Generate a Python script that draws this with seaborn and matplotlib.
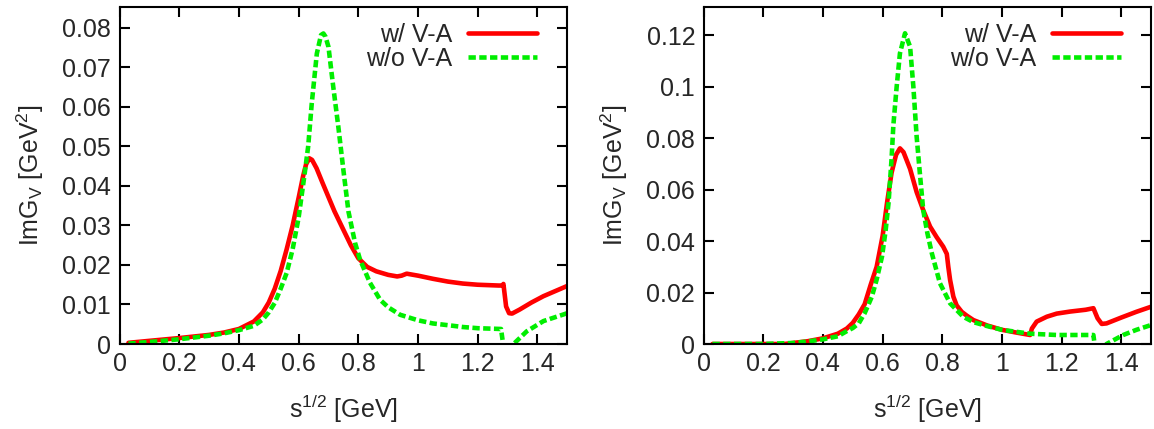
import numpy as np
import pandas as pd
import matplotlib
matplotlib.use("Agg")
import matplotlib.pyplot as plt
from matplotlib.ticker import FuncFormatter
import seaborn as sns

# ---------------- data ----------------
left_red_x = [0.03, 0.1, 0.2, 0.3, 0.35, 0.4, 0.45, 0.48, 0.50, 0.52, 0.54, 0.56, 0.58, 0.60,
              0.615, 0.625, 0.636, 0.645, 0.66, 0.68, 0.70, 0.72, 0.75, 0.775, 0.80, 0.83,
              0.86, 0.90, 0.93, 0.945, 0.962, 1.0, 1.05, 1.10, 1.15, 1.20, 1.27, 1.283,
              1.286, 1.295, 1.305, 1.315, 1.34, 1.38, 1.42, 1.46, 1.50]
left_red_y = [0.0003, 0.0008, 0.0015, 0.0023, 0.0029, 0.0038, 0.0057, 0.0080, 0.0105, 0.0140,
              0.0185, 0.0240, 0.0300, 0.0370, 0.0425, 0.0455, 0.0470, 0.0466, 0.0445, 0.0408,
              0.0372, 0.0336, 0.0289, 0.0250, 0.0217, 0.0195, 0.0184, 0.0175, 0.0171, 0.0173,
              0.0178, 0.0173, 0.0165, 0.0158, 0.0153, 0.0150, 0.0148, 0.0148, 0.0152, 0.0095,
              0.0078, 0.0077, 0.0087, 0.0105, 0.0121, 0.0134, 0.0147]

left_green_x = [0.03, 0.1, 0.2, 0.3, 0.35, 0.4, 0.45, 0.48, 0.50, 0.52, 0.54, 0.56, 0.58, 0.60,
                0.62, 0.632, 0.644, 0.661, 0.675, 0.683, 0.69, 0.70, 0.716, 0.733, 0.75, 0.767,
                0.789, 0.806, 0.839, 0.873, 0.90, 0.94, 1.0, 1.05, 1.107, 1.15, 1.2, 1.278,
                1.285, 1.29, 1.31, 1.32, 1.364, 1.42, 1.46, 1.50]
left_green_y = [0.0001, 0.0005, 0.0012, 0.0021, 0.0027, 0.0035, 0.0046, 0.0062, 0.0080, 0.0104,
                0.0140, 0.0180, 0.0240, 0.0320, 0.0430, 0.0500, 0.0609, 0.0735, 0.0782, 0.0786,
                0.0778, 0.0752, 0.0651, 0.0550, 0.0440, 0.0335, 0.0256, 0.0213, 0.0155, 0.0112,
                0.0093, 0.0074, 0.0060, 0.0052, 0.0047, 0.0043, 0.0040, 0.0038, 0.0000, -0.003,
                -0.003, 0.0000, 0.0032, 0.0058, 0.0068, 0.0078]

right_red_x = [0.03, 0.27, 0.30, 0.35, 0.40, 0.45, 0.48, 0.50, 0.52, 0.54, 0.56, 0.58, 0.60,
               0.615, 0.63, 0.645, 0.658, 0.67, 0.692, 0.714, 0.736, 0.759, 0.781, 0.803, 0.815,
               0.820, 0.826, 0.837, 0.848, 0.865, 0.882, 0.904, 0.95, 1.0, 1.05, 1.094, 1.10,
               1.116, 1.15, 1.183, 1.228, 1.28, 1.306, 1.32, 1.334, 1.35, 1.40, 1.45, 1.50]
right_red_y = [0.0, 0.0, 0.0004, 0.0011, 0.0022, 0.0040, 0.0060, 0.0082, 0.0115, 0.0155, 0.0230,
               0.0300, 0.0420, 0.0550, 0.0665, 0.0735, 0.0760, 0.0745, 0.0680, 0.0590, 0.0520,
               0.0456, 0.0415, 0.0378, 0.0350, 0.0300, 0.0249, 0.0184, 0.0150, 0.0125, 0.0110,
               0.0093, 0.0072, 0.0055, 0.0044, 0.0035, 0.0060, 0.0087, 0.0106, 0.0118, 0.0126,
               0.0133, 0.0139, 0.0100, 0.0078, 0.0080, 0.0103, 0.0125, 0.0145]

right_green_x = [0.03, 0.2, 0.3, 0.35, 0.40, 0.45, 0.48, 0.50, 0.52, 0.54, 0.564, 0.58, 0.598,
                 0.61, 0.62, 0.63, 0.636, 0.647, 0.658, 0.675, 0.692, 0.703, 0.714, 0.725,
                 0.736, 0.750, 0.765, 0.792, 0.826, 0.87, 0.904, 0.949, 1.0, 1.05, 1.094,
                 1.183, 1.306, 1.31, 1.315, 1.345, 1.35, 1.406, 1.45, 1.50]
right_green_y = [0.0, 0.0, 0.0004, 0.0010, 0.0018, 0.0030, 0.0050, 0.0062, 0.0080, 0.0120,
                 0.0184, 0.0250, 0.0340, 0.0440, 0.0550, 0.0720, 0.0850, 0.0999, 0.1129, 0.1207,
                 0.1155, 0.0999, 0.0805, 0.0660, 0.0520, 0.0430, 0.0352, 0.0236, 0.0158, 0.0106,
                 0.0085, 0.0070, 0.0055, 0.0047, 0.0040, 0.0035, 0.0035, 0.0, -0.003, -0.003,
                 0.0, 0.0035, 0.0055, 0.0074]

labels = ["w/ V-A", "w/o V-A"]
xticks = [0, 0.2, 0.4, 0.6, 0.8, 1.0, 1.2, 1.4]
left_yticks = [0, 0.01, 0.02, 0.03, 0.04, 0.05, 0.06, 0.07, 0.08]
right_yticks = [0, 0.02, 0.04, 0.06, 0.08, 0.10, 0.12]

# ---------------- style ----------------
sns.set_style("ticks")
plt.rcParams["font.family"] = ["Liberation Sans", "DejaVu Sans"]
plt.rcParams["mathtext.fontset"] = "custom"
plt.rcParams["mathtext.rm"] = "Liberation Sans"
plt.rcParams["mathtext.it"] = "Liberation Sans"
plt.rcParams["xtick.direction"] = "in"
plt.rcParams["ytick.direction"] = "in"

FS = 18
LW = 3.3
fig = plt.figure(figsize=(11.54, 4.29), dpi=100)
W, H = 1154, 429
ax_l = fig.add_axes([119.5 / W, (H - 344) / H, 447.8 / W, 337 / H])
ax_r = fig.add_axes([703.5 / W, (H - 344) / H, 447.8 / W, 337 / H])

fmt = FuncFormatter(lambda v, p: ("%g" % round(v, 6)))

panels = [
    (ax_l, left_red_x, left_red_y, left_green_x, left_green_y, left_yticks, 0.0853),
    (ax_r, right_red_x, right_red_y, right_green_x, right_green_y, right_yticks, 0.1309),
]

for ax, rx, ry, gx, gy, yt, ytop in panels:
    red = pd.DataFrame({"x": rx, "y": ry})
    green = pd.DataFrame({"x": gx, "y": gy})
    sns.lineplot(data=red, x="x", y="y", ax=ax, color="#ff0000", lw=LW,
                 label=labels[0], sort=False, estimator=None)
    sns.lineplot(data=green, x="x", y="y", ax=ax, color="#00ee00", lw=LW,
                 label=labels[1], sort=False, estimator=None)
    ax.lines[1].set_dashes([1.6, 0.75])
    ax.lines[1].set_dash_capstyle("butt")
    ax.set_xlim(0, 1.5)
    ax.set_ylim(0, ytop)
    ax.set_xticks(xticks)
    ax.set_yticks(yt)
    ax.xaxis.set_major_formatter(fmt)
    ax.yaxis.set_major_formatter(fmt)
    ax.tick_params(axis="both", which="major", direction="in", length=7, width=1.5,
                   labelsize=FS, top=True, right=True, pad=6, color="black")
    for s in ax.spines.values():
        s.set_visible(True)
        s.set_linewidth(1.5)
        s.set_color("black")
    ax.set_xlabel(r"s$^{1/2}$ [GeV]", fontsize=FS, labelpad=12)
    ax.set_ylabel(r"ImG$_{\mathrm{V}}$ [GeV$^{2}$]", fontsize=FS, labelpad=12)
    leg = ax.legend(loc="upper right", bbox_to_anchor=(0.955, 0.982), frameon=False,
                    markerfirst=False, fontsize=FS, handlelength=2.75, handletextpad=0.65,
                    labelspacing=0.0, borderaxespad=0.0, borderpad=0.4)
    for h in leg.get_lines():
        h.set_linewidth(LW)

fig.savefig("out.png", dpi=100)
